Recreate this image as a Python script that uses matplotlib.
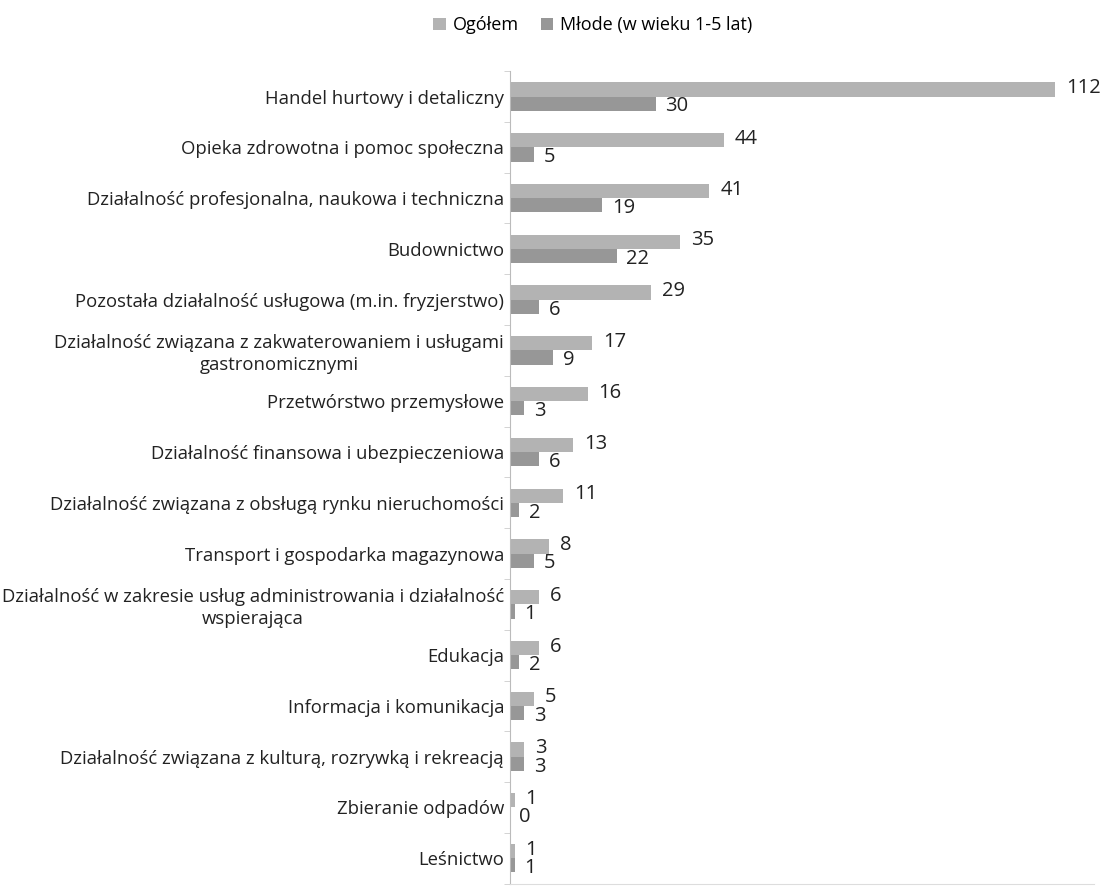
import matplotlib
matplotlib.use('Agg')
from matplotlib import pyplot as plt
import numpy as np

plt.rcParams['font.family'] = ['Open Sans', 'DejaVu Sans']

# dane
kategorie = [
    'Handel hurtowy i detaliczny',
    'Opieka zdrowotna i pomoc społeczna',
    'Działalność profesjonalna, naukowa i techniczna',
    'Budownictwo',
    'Pozostała działalność usługowa (m.in. fryzjerstwo)',
    'Działalność związana z zakwaterowaniem i usługami\ngastronomicznymi',
    'Przetwórstwo przemysłowe',
    'Działalność finansowa i ubezpieczeniowa',
    'Działalność związana z obsługą rynku nieruchomości',
    'Transport i gospodarka magazynowa',
    'Działalność w zakresie usług administrowania i działalność\nwspierająca',
    'Edukacja',
    'Informacja i komunikacja',
    'Działalność związana z kulturą, rozrywką i rekreacją',
    'Zbieranie odpadów',
    'Leśnictwo',
]
ogolem = [112, 44, 41, 35, 29, 17, 16, 13, 11, 8, 6, 6, 5, 3, 1, 1]
mlode = [30, 5, 19, 22, 6, 9, 3, 6, 2, 5, 1, 2, 3, 3, 0, 1]

kolor_ogolem = '#b3b3b3'
kolor_mlode = '#979797'

fig = plt.figure(figsize=(11.08, 8.89), dpi=100)
ax = fig.add_axes([0.46, 0.006, 0.527, 0.914])

y = np.arange(len(kategorie))
h = 0.28
b1 = ax.barh(y - h / 2, ogolem, height=h, color=kolor_ogolem, label='Ogółem')
b2 = ax.barh(y + h / 2, mlode, height=h, color=kolor_mlode, label='Młode (w wieku 1-5 lat)')

for rect, v in zip(b1, ogolem):
    ax.annotate(str(v), (rect.get_width(), rect.get_y() + rect.get_height() / 2),
                xytext=(8, 1), textcoords='offset points', va='center', ha='left',
                fontsize=14.5, color='#222222')
for rect, v in zip(b2, mlode):
    ax.annotate(str(v), (rect.get_width(), rect.get_y() + rect.get_height() / 2),
                xytext=(7, -2), textcoords='offset points', va='center', ha='left',
                fontsize=14.5, color='#222222')

ax.set_yticks(y)
ax.set_yticklabels(kategorie, fontsize=13.3, multialignment='center', color='#222222',
                   linespacing=1.25)
ax.set_yticks(np.arange(len(kategorie) + 1) - 0.5, minor=True)
ax.tick_params(axis='y', which='major', length=0, pad=4)
ax.tick_params(axis='y', which='minor', length=4, color='#cccccc', direction='out')
ax.set_ylim(len(kategorie) - 0.5, -0.5)
ax.set_xlim(0, 120)
ax.set_xticks([])

for s in ['top', 'right']:
    ax.spines[s].set_visible(False)
ax.spines['left'].set_color('#bbbbbb')
ax.spines['bottom'].set_color('#dddddd')

fig.legend(handles=[b1, b2], loc='upper center', bbox_to_anchor=(0.535, 1.0), ncol=2,
           frameon=False, fontsize=13, handlelength=0.7, handleheight=0.7,
           handletextpad=0.4, columnspacing=1.2)

fig.savefig('out.png', dpi=100)
